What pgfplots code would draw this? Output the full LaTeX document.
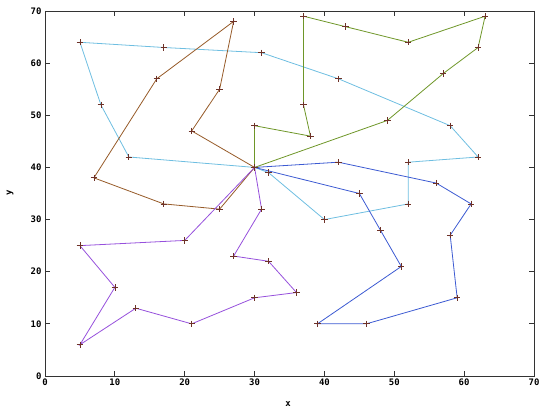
\documentclass[border=0pt]{standalone}
\usepackage{pgfplots}
\pgfplotsset{compat=1.18}
\usepackage{fontspec}
\setmainfont{DejaVu Sans Mono}
\definecolor{rcyan}{RGB}{110,190,225}
\definecolor{rgreen}{RGB}{110,150,40}
\definecolor{rbrown}{RGB}{150,90,40}
\definecolor{rpurple}{RGB}{150,80,220}
\definecolor{rblue}{RGB}{60,90,210}
\definecolor{rmark}{RGB}{110,50,40}
\begin{document}
\begin{tikzpicture}
\begin{axis}[
  scale only axis,
  width=489bp, height=365bp,
  xmin=0, xmax=70, ymin=0, ymax=70,
  xtick={0,10,...,70}, ytick={0,10,...,70},
  tick align=inside,
  major tick length=5bp,
  axis line style={line width=0.9bp, black!80},
  tick style={line width=0.8bp, black!80},
  /pgf/number format/assume math mode=true,
  ticklabel style={font=\fontsize{9}{10}\selectfont\bfseries},
  xticklabel style={yshift=1bp},
  label style={font=\fontsize{9}{10}\selectfont\bfseries},
  xlabel={x}, ylabel={y},
  xlabel style={at={(axis description cs:0.497,-0.0767)}, anchor=center},
  ylabel style={at={(axis description cs:-0.0716,0.501)}, anchor=center},
  every axis plot/.append style={line width=0.8bp},
  clip=false,
]
% cyan route
\addplot[rcyan, mark=+, mark size=3.2bp, mark options={rmark, line width=0.7bp}] coordinates {
(30,40) (32,39) (40,30) (52,33) (52,41) (62,42) (58,48) (42,57) (31,62) (17,63) (5,64) (8,52) (12,42) (30,40)};
% green route
\addplot[rgreen, mark=+, mark size=3.2bp, mark options={rmark, line width=0.7bp}] coordinates {
(30,40) (30,48) (38,46) (37,52) (37,69) (43,67) (52,64) (63,69) (62,63) (57,58) (49,49) (30,40)};
% brown route
\addplot[rbrown, mark=+, mark size=3.2bp, mark options={rmark, line width=0.7bp}] coordinates {
(30,40) (21,47) (25,55) (27,68) (16,57) (7,38) (17,33) (25,32) (30,40)};
% purple route
\addplot[rpurple, mark=+, mark size=3.2bp, mark options={rmark, line width=0.7bp}] coordinates {
(30,40) (31,32) (27,23) (32,22) (36,16) (30,15) (21,10) (13,13) (5,6) (10,17) (5,25) (20,26) (30,40)};
% blue route
\addplot[rblue, mark=+, mark size=3.2bp, mark options={rmark, line width=0.7bp}] coordinates {
(30,40) (42,41) (56,37) (61,33) (58,27) (59,15) (46,10) (39,10) (51,21) (48,28) (45,35) (30,40)};
\end{axis}
\pgfresetboundingbox
\path[use as bounding box] ([shift={(-45bp,-39bp)}]current axis.south west) rectangle ([shift={(16bp,11bp)}]current axis.north east);
\end{tikzpicture}
\end{document}
